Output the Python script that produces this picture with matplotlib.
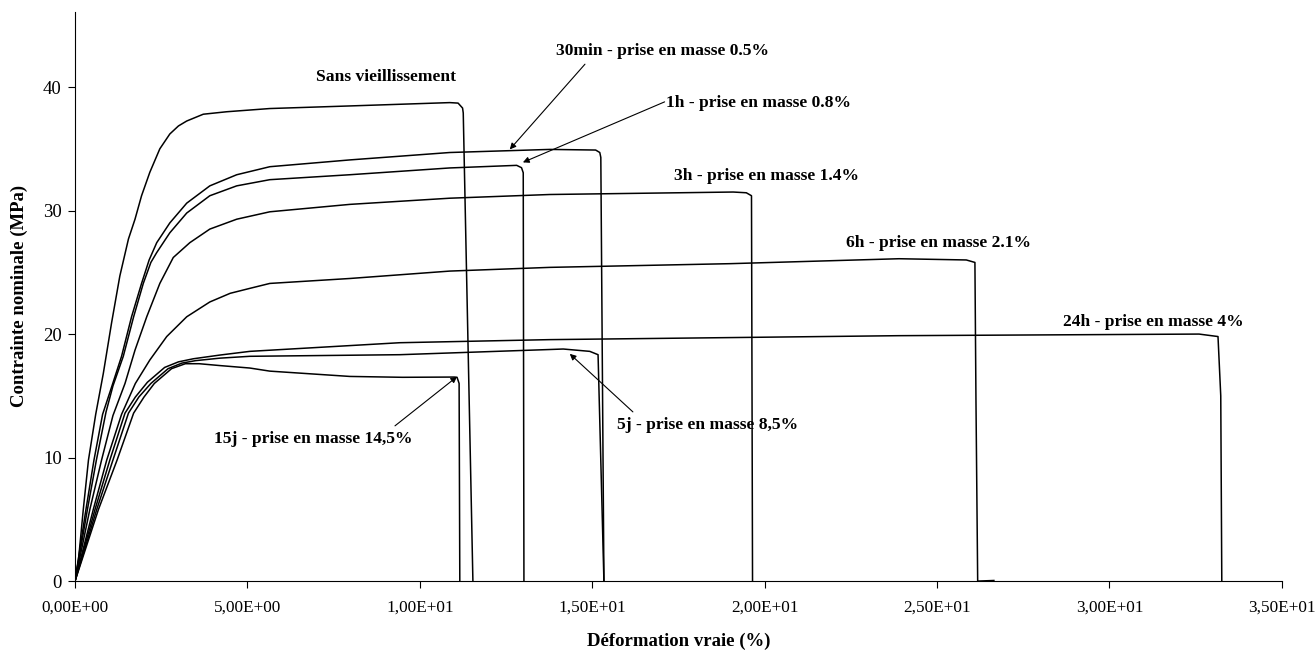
import matplotlib
matplotlib.use('Agg')
import matplotlib.pyplot as plt
from matplotlib.ticker import FuncFormatter

plt.rcParams['font.family'] = ['Liberation Serif', 'DejaVu Serif']

# courbes contrainte / deformation (x en %, y en MPa)
sans_x = [0, 0.1, 0.24, 0.39, 0.6, 0.82, 1.06, 1.3, 1.45, 1.55, 1.74, 1.93, 2.17, 2.46, 2.75, 3.0, 3.24, 3.72, 4.4, 5.65, 7.97, 10.87, 11.11, 11.24, 11.26, 11.54]
sans_y = [0, 1.7, 5.8, 9.8, 13.5, 16.8, 20.9, 24.7, 26.5, 27.7, 29.3, 31.2, 33.1, 35.0, 36.2, 36.85, 37.25, 37.8, 38.0, 38.26, 38.47, 38.74, 38.7, 38.3, 37.9, 0]

min30_x = [0, 0.3, 0.55, 0.8, 1.06, 1.35, 1.64, 1.93, 2.15, 2.37, 2.75, 3.24, 3.91, 4.69, 5.65, 7.97, 10.87, 13.77, 15.1, 15.22, 15.25, 15.34]
min30_y = [0, 5.5, 9.8, 13.5, 15.7, 18.2, 21.4, 24.1, 26.0, 27.4, 29.0, 30.6, 32.0, 32.9, 33.55, 34.1, 34.7, 34.95, 34.9, 34.7, 34.3, 0]

h1_x = [0, 0.36, 0.62, 0.9, 1.1, 1.4, 1.7, 1.98, 2.2, 2.37, 2.75, 3.24, 3.91, 4.69, 5.65, 7.97, 10.87, 12.81, 12.95, 13.0, 13.02]
h1_y = [0, 5.8, 9.8, 13.7, 15.8, 18.2, 21.4, 24.1, 25.8, 26.6, 28.2, 29.8, 31.2, 32.0, 32.5, 32.9, 33.45, 33.66, 33.47, 33.06, 0]

h3_x = [0, 0.43, 0.77, 1.1, 1.45, 1.74, 2.08, 2.46, 2.85, 3.33, 3.91, 4.69, 5.65, 7.97, 10.87, 13.77, 19.09, 19.47, 19.62, 19.65]
h3_y = [0, 5.8, 9.8, 13.4, 16.0, 18.7, 21.4, 24.1, 26.2, 27.4, 28.5, 29.3, 29.9, 30.5, 31.0, 31.3, 31.5, 31.44, 31.2, 0]

h6_x = [0, 0.53, 0.92, 1.35, 1.75, 2.17, 2.66, 3.24, 3.91, 4.5, 5.07, 5.65, 7.97, 10.87, 13.77, 19.0, 23.9, 25.85, 26.1, 26.13, 26.18, 26.65]
h6_y = [0, 5.8, 9.8, 13.5, 16.0, 17.9, 19.8, 21.4, 22.6, 23.3, 23.7, 24.1, 24.5, 25.1, 25.4, 25.7, 26.1, 26.0, 25.8, 14.7, 0, 0.05]

h24_x = [0, 0.58, 1.01, 1.45, 1.75, 2.1, 2.6, 3.0, 3.43, 4.2, 5.07, 9.42, 13.77, 23.9, 32.6, 33.15, 33.23, 33.26]
h24_y = [0, 5.8, 9.8, 13.6, 14.9, 16.1, 17.3, 17.75, 18.0, 18.3, 18.6, 19.3, 19.55, 19.87, 20.0, 19.8, 15.0, 0]

j5_x = [0, 0.63, 1.1, 1.55, 1.85, 2.2, 2.7, 3.1, 3.5, 4.2, 5.07, 9.42, 13.77, 14.16, 14.93, 15.17, 15.34]
j5_y = [0, 5.8, 9.8, 13.6, 14.9, 16.0, 17.2, 17.65, 17.85, 18.05, 18.2, 18.33, 18.75, 18.79, 18.6, 18.33, 0]

j15_x = [0, 0.68, 1.22, 1.7, 2.0, 2.3, 2.8, 3.2, 3.6, 4.2, 5.07, 5.65, 7.97, 9.5, 11.0, 11.08, 11.14, 11.16]
j15_y = [0, 5.8, 9.8, 13.6, 14.9, 16.0, 17.2, 17.6, 17.6, 17.45, 17.25, 17.0, 16.57, 16.5, 16.52, 16.5, 16.0, 0]

fig = plt.figure(figsize=(13.16, 6.5), dpi=100)
ax = fig.add_axes([0.057, 0.106, 0.917, 0.876])

for xs, ys in [(sans_x, sans_y), (min30_x, min30_y), (h1_x, h1_y), (h3_x, h3_y),
               (h6_x, h6_y), (h24_x, h24_y), (j5_x, j5_y), (j15_x, j15_y)]:
    ax.plot(xs, ys, color='black', lw=1.1)

ax.set_xlim(0, 35)
ax.set_ylim(0, 46.1)
ax.set_xticks([0, 5, 10, 15, 20, 25, 30, 35])
ax.set_yticks([0, 10, 20, 30, 40])
ax.xaxis.set_major_formatter(FuncFormatter(lambda v, p: ('%.2E' % v).replace('.', ',')))
ax.tick_params(length=5, width=0.8, direction='out')
ax.tick_params(axis='x', labelsize=12.4, pad=8)
ax.tick_params(axis='y', labelsize=13.5, pad=4.5)
for s in ['top', 'right']:
    ax.spines[s].set_visible(False)
for s in ['left', 'bottom']:
    ax.spines[s].set_linewidth(0.8)

ax.set_xlabel('Déformation vraie (%)', fontsize=13.5, fontweight='bold')
ax.set_ylabel('Contrainte nominale (MPa)', fontsize=13.5, fontweight='bold')
ax.xaxis.set_label_coords(0.5, -0.0914)
ax.yaxis.set_label_coords(-0.039, 0.5)

fs = 12.6
ax.text(9.02, 40.8, 'Sans vieillissement', ha='center', va='center', fontsize=fs, fontweight='bold')
ax.text(20.06, 32.8, '3h - prise en masse 1.4%', ha='center', va='center', fontsize=fs, fontweight='bold')
ax.text(25.05, 27.4, '6h - prise en masse 2.1%', ha='center', va='center', fontsize=fs, fontweight='bold')
ax.text(31.26, 21.0, '24h - prise en masse 4%', ha='center', va='center', fontsize=fs, fontweight='bold')

arrow = dict(arrowstyle='-|>', color='black', lw=0.8, mutation_scale=9, shrinkA=0, shrinkB=0)
ax.text(17.05, 42.9, '30min - prise en masse 0.5%', ha='center', va='center', fontsize=fs, fontweight='bold')
ax.annotate('', xy=(12.61, 34.95), xytext=(14.79, 41.85), arrowprops=arrow)
ax.text(19.83, 38.7, '1h - prise en masse 0.8%', ha='center', va='center', fontsize=fs, fontweight='bold')
ax.annotate('', xy=(12.99, 33.9), xytext=(17.1, 38.8), arrowprops=arrow)
ax.text(18.35, 12.65, '5j - prise en masse 8,5%', ha='center', va='center', fontsize=fs, fontweight='bold')
ax.annotate('', xy=(14.35, 18.4), xytext=(16.18, 13.7), arrowprops=arrow)
ax.text(6.9, 11.5, '15j - prise en masse 14,5%', ha='center', va='center', fontsize=fs, fontweight='bold')
ax.annotate('', xy=(11.08, 16.55), xytext=(9.28, 12.57), arrowprops=arrow)

fig.savefig('out.png', dpi=100)
